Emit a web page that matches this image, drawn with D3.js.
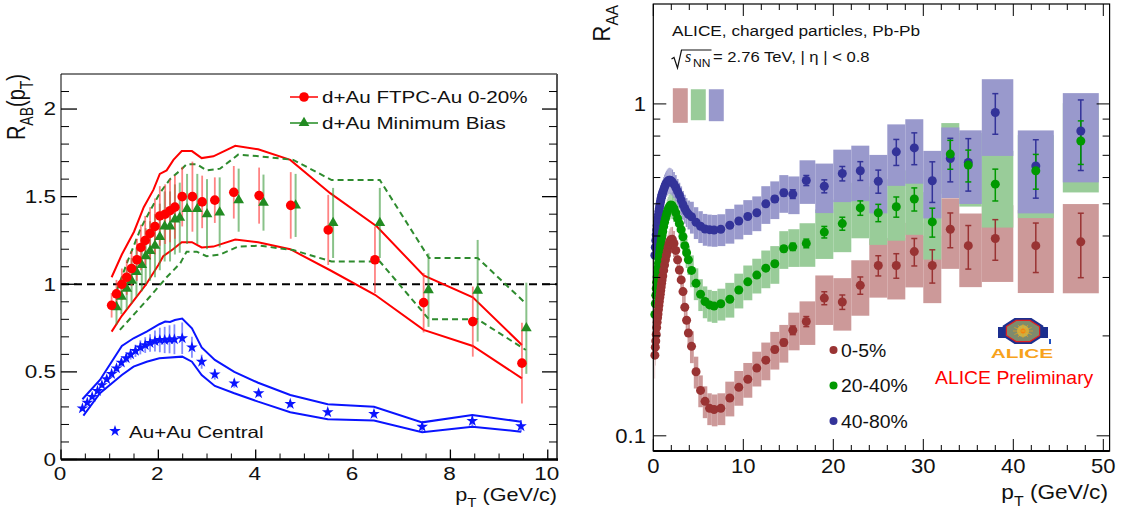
<!DOCTYPE html>
<html>
<head>
<meta charset="utf-8">
<script src="https://cdn.jsdelivr.net/npm/d3@7"></script>
<style>
  body { margin: 0; background: #fff; }
  svg { display: block; }
</style>
</head>
<body>
<svg id="chart" width="1125" height="517"></svg>
<script>
// ================= Left panel: STAR nuclear modification factors =================
// d+Au FTPC-Au 0-20% (red circles)
const dAuCentPt  = [1.04,1.14,1.25,1.35,1.45,1.56,1.64,1.73,1.83,1.93,2.03,2.14,2.24,2.34,2.49,2.70,2.90,3.16,3.55,4.07,4.72,5.49,6.45,7.45,8.46,9.47];
const dAuCentR   = [0.88,0.945,1.00,1.04,1.09,1.14,1.21,1.25,1.29,1.33,1.39,1.40,1.42,1.44,1.50,1.50,1.47,1.48,1.525,1.506,1.45,1.31,1.14,0.895,0.787,0.55];
const dAuCentErr = [0.07,0.08,0.09,0.10,0.10,0.12,0.13,0.14,0.15,0.16,0.17,0.17,0.18,0.18,0.17,0.20,0.15,0.13,0.15,0.16,0.19,0.20,0.19,0.17,0.20,0.23];
const dAuCentBandHi = [[1.04,1.04],[1.25,1.17],[1.5,1.30],[1.7,1.44],[1.9,1.54],[2.03,1.63],[2.17,1.65],[2.31,1.71],[2.48,1.76],[2.69,1.76],[2.89,1.72],[3.13,1.73],[3.58,1.79],[4.05,1.77],[4.71,1.71],[5.53,1.52],[6.49,1.33],[7.45,1.05],[8.46,0.926],[9.47,0.653]];
const dAuCentBandLo = [[1.04,0.73],[1.25,0.82],[1.5,0.91],[1.75,1.00],[2.0,1.11],[2.1,1.16],[2.3,1.20],[2.48,1.24],[2.69,1.24],[2.89,1.21],[3.13,1.215],[3.58,1.255],[4.05,1.24],[4.71,1.20],[5.53,1.08],[6.45,0.94],[7.45,0.74],[8.46,0.648],[9.47,0.463]];

// d+Au Minimum Bias (green triangles)
const dAuMbPt  = [1.14,1.24,1.35,1.45,1.55,1.66,1.74,1.83,1.93,2.03,2.13,2.24,2.34,2.44,2.59,2.80,3.00,3.26,3.65,4.16,4.82,5.59,6.55,7.55,8.56,9.56];
const dAuMbR   = [0.87,0.93,0.975,1.02,1.07,1.11,1.16,1.19,1.22,1.27,1.33,1.33,1.37,1.38,1.43,1.43,1.40,1.41,1.48,1.466,1.45,1.35,1.35,0.967,0.963,0.749];
const dAuMbErr = [0.10,0.10,0.12,0.13,0.14,0.15,0.16,0.17,0.18,0.19,0.20,0.20,0.20,0.20,0.20,0.20,0.20,0.20,0.18,0.16,0.18,0.20,0.20,0.21,0.29,0.26];
const dAuMbBandHi = [[1.14,0.96],[1.38,1.14],[1.64,1.32],[1.83,1.42],[2.03,1.52],[2.24,1.60],[2.45,1.65],[2.58,1.685],[2.79,1.685],[2.99,1.65],[3.27,1.66],[3.64,1.74],[4.09,1.73],[4.77,1.71],[5.56,1.595],[6.55,1.595],[7.56,1.15],[8.56,1.15],[9.55,0.89]];
const dAuMbBandLo = [[1.21,0.74],[1.49,0.825],[1.83,0.93],[2.17,1.04],[2.45,1.12],[2.58,1.186],[2.79,1.186],[2.99,1.16],[3.27,1.17],[3.64,1.215],[4.09,1.22],[4.77,1.195],[5.56,1.13],[6.55,1.13],[7.56,0.80],[8.56,0.80],[9.55,0.625]];

// Au+Au Central (blue stars)
const auAuPt  = [0.44,0.54,0.64,0.75,0.84,0.94,1.04,1.14,1.24,1.34,1.43,1.53,1.63,1.73,1.83,1.93,2.03,2.13,2.23,2.33,2.49,2.69,2.89,3.16,3.56,4.06,4.71,5.48,6.43,7.42,8.45,9.45];
const auAuR   = [0.292,0.324,0.358,0.391,0.425,0.458,0.488,0.52,0.553,0.578,0.60,0.62,0.64,0.653,0.665,0.676,0.682,0.682,0.686,0.686,0.692,0.64,0.558,0.486,0.435,0.378,0.317,0.27,0.26,0.187,0.22,0.19];
const auAuErr = [0.01,0.01,0.012,0.012,0.015,0.015,0.018,0.02,0.022,0.025,0.03,0.035,0.04,0.045,0.05,0.06,0.07,0.075,0.08,0.085,0.09,0.06,0.04,0.03,0.025,0.02,0.02,0.02,0.02,0.025,0.03,0.035];
const auAuBandHi = [[0.44,0.344],[0.80,0.454],[1.25,0.648],[1.49,0.692],[1.76,0.73],[2.02,0.772],[2.14,0.787],[2.24,0.785],[2.34,0.796],[2.49,0.804],[2.69,0.749],[2.89,0.64],[3.16,0.568],[3.56,0.50],[4.05,0.438],[4.71,0.368],[5.48,0.315],[6.43,0.301],[7.42,0.212],[8.45,0.254],[9.45,0.216]];
const auAuBandLo = [[0.46,0.25],[0.80,0.378],[1.25,0.482],[1.49,0.53],[1.76,0.558],[2.02,0.578],[2.49,0.587],[2.69,0.558],[2.89,0.482],[3.16,0.42],[3.56,0.378],[4.05,0.33],[4.71,0.27],[5.48,0.23],[6.43,0.222],[7.42,0.155],[8.45,0.187],[9.45,0.159]];

const leftXMajor = [0, 2, 4, 6, 8, 10];
const leftYMajor = [0, 0.5, 1, 1.5, 2];
const leftYLabels = ["0", "0.5", "1", "1.5", "2"];

// ================= Right panel: ALICE charged-particle R_AA, Pb-Pb =================
const alicePt = [0.175,0.225,0.275,0.325,0.375,0.425,0.475,0.525,0.575,0.625,0.675,0.725,0.775,0.825,0.875,0.925,0.975,
  1.05,1.15,1.25,1.35,1.45,1.55,1.65,1.75,1.85,1.95,
  2.1,2.3,2.5,2.7,2.9,3.1,3.3,3.5,3.7,3.9,
  4.25,4.75,5.25,5.75,6.25,6.75,7.5,8.5,9.5,10.5,11.5,12.5,13.5,14.5,15.5,
  17,19,21,23,25,27,29,31,33,35,38,42.5,47.5];
const raa0to5 = [0.175,0.185,0.193,0.202,0.212,0.220,0.227,0.233,0.240,0.247,0.254,0.261,0.267,0.274,0.281,0.288,0.295,
  0.303,0.315,0.327,0.339,0.350,0.360,0.370,0.379,0.386,0.390,
  0.391,0.380,0.362,0.339,0.316,0.295,0.272,0.244,0.223,0.204,
  0.186,0.156,0.137,0.127,0.121,0.120,0.121,0.130,0.140,0.148,0.160,0.169,0.182,0.191,0.208,
  0.221,0.260,0.253,0.284,0.326,0.326,0.359,0.326,0.419,0.374,0.393,0.374,0.384];
const raa20to40 = [0.232,0.250,0.265,0.278,0.290,0.301,0.311,0.321,0.331,0.341,0.351,0.360,0.369,0.378,0.387,0.395,0.403,
  0.413,0.427,0.440,0.452,0.463,0.473,0.481,0.488,0.493,0.496,
  0.494,0.484,0.470,0.452,0.436,0.418,0.398,0.374,0.356,0.339,
  0.315,0.288,0.267,0.254,0.248,0.246,0.250,0.258,0.275,0.291,0.305,0.320,0.330,0.366,0.371,
  0.380,0.411,0.436,0.486,0.470,0.490,0.517,0.441,0.706,0.654,0.573,0.629,0.773];
const raa40to80 = [0.350,0.370,0.388,0.403,0.417,0.430,0.442,0.453,0.464,0.475,0.485,0.495,0.504,0.512,0.520,0.527,0.534,
  0.542,0.552,0.562,0.570,0.577,0.582,0.586,0.589,0.589,0.587,
  0.582,0.572,0.560,0.545,0.531,0.513,0.497,0.484,0.473,0.465,
  0.457,0.440,0.428,0.420,0.418,0.417,0.419,0.431,0.444,0.458,0.470,0.500,0.517,0.540,0.535,
  0.588,0.565,0.617,0.629,0.585,0.717,0.737,0.587,0.685,0.666,0.942,0.650,0.829];
// relative statistical uncertainties
const stat0to5 = [0.01,0.01,0.01,0.01,0.01,0.01,0.01,0.01,0.01,0.01,0.01,0.01,0.01,0.01,0.01,0.01,0.01,
  0.01,0.01,0.01,0.01,0.01,0.01,0.01,0.01,0.01,0.01,
  0.01,0.01,0.01,0.01,0.01,0.01,0.01,0.01,0.01,0.01,
  0.01,0.01,0.01,0.01,0.01,0.01,0.01,0.01,0.012,0.012,0.015,0.018,0.02,0.022,0.03,
  0.035,0.045,0.05,0.06,0.07,0.085,0.095,0.115,0.12,0.15,0.14,0.17,0.22];
const stat20to40 = [0.01,0.01,0.01,0.01,0.01,0.01,0.01,0.01,0.01,0.01,0.01,0.01,0.01,0.01,0.01,0.01,0.01,
  0.01,0.01,0.01,0.01,0.01,0.01,0.01,0.01,0.01,0.01,
  0.01,0.01,0.01,0.01,0.01,0.01,0.01,0.01,0.01,0.01,
  0.01,0.01,0.01,0.01,0.01,0.01,0.01,0.01,0.01,0.012,0.012,0.015,0.018,0.02,0.025,
  0.03,0.04,0.045,0.05,0.06,0.07,0.08,0.10,0.10,0.11,0.11,0.12,0.15];
const stat40to80 = [0.01,0.01,0.01,0.01,0.01,0.01,0.01,0.01,0.01,0.01,0.01,0.01,0.01,0.01,0.01,0.01,0.01,
  0.01,0.01,0.01,0.01,0.01,0.01,0.01,0.01,0.01,0.01,
  0.01,0.01,0.01,0.01,0.01,0.01,0.01,0.01,0.01,0.01,
  0.01,0.01,0.01,0.01,0.01,0.01,0.01,0.01,0.012,0.012,0.015,0.018,0.02,0.022,0.03,
  0.035,0.045,0.05,0.065,0.08,0.09,0.11,0.14,0.15,0.18,0.14,0.20,0.24];
// relative systematic uncertainty per pT bin
const sysRel = [0.15,0.12,0.10,0.10,0.10,0.10,0.10,0.10,0.10,0.10,0.10,0.10,0.10,0.10,0.10,0.10,0.10,
  0.09,0.09,0.09,0.09,0.09,0.09,0.09,0.09,0.09,0.09,
  0.09,0.09,0.09,0.09,0.09,0.10,0.10,0.10,0.10,0.10,
  0.11,0.11,0.11,0.11,0.11,0.11,0.11,0.12,0.12,0.12,0.12,0.13,0.13,0.13,0.13,
  0.15,0.17,0.18,0.19,0.20,0.21,0.22,0.23,0.24,0.25,0.26,0.28,0.30];
// normalisation uncertainty boxes at R_AA = 1
const normPt = [3, 5, 7];
const normLo = [0.877, 0.893, 0.887];
const normHi = [1.115, 1.107, 1.107];

const centralityLabels = ["0-5%", "20-40%", "40-80%"];
const rightXMajor = [0, 10, 20, 30, 40, 50];
const rightYMajor = [0.1, 1];
const rightYLabels = ["0.1", "1"];

// ================= drawing =================
const FONT = "'Liberation Sans', Arial, Helvetica, sans-serif";
const svg = d3.select("#chart");

// text with optional subscripts, horizontal stretch and rotation
function richText(parent, x, y, parts, o) {
  const g = parent.append("g")
    .attr("transform", `translate(${x},${y}) scale(${o.sx || 1},1)` + (o.rot ? ` rotate(${o.rot})` : ""));
  const t = g.append("text")
    .attr("font-family", o.family || FONT)
    .attr("font-size", o.size)
    .attr("font-style", o.italic ? "italic" : null)
    .attr("text-anchor", o.anchor || "start")
    .attr("fill", o.fill || "#000");
  let shift = 0;
  parts.forEach(p => {
    const sub = Array.isArray(p);
    const target = sub ? o.size * 0.32 : 0;
    const ts = t.append("tspan").text(sub ? p[0] : p).attr("dy", target - shift);
    if (sub) ts.attr("font-size", o.size * 0.7);
    shift = target;
  });
  return g;
}

// ---------- left panel ----------
const L = { x0: 61, x1: 557, y0: 459.5, y1: 74 };
const xL = d3.scaleLinear().domain([0, 10.19]).range([L.x0, L.x1]);
const yL = d3.scaleLinear().domain([0, 2.2]).range([L.y0, L.y1]);
const left = svg.append("g");

// frame
left.append("line").attr("x1", L.x0).attr("x2", L.x1).attr("y1", L.y1).attr("y2", L.y1).attr("stroke", "#000").attr("stroke-width", 1);
left.append("line").attr("x1", L.x0).attr("x2", L.x0).attr("y1", L.y1).attr("y2", L.y0).attr("stroke", "#000").attr("stroke-width", 1);
left.append("line").attr("x1", L.x1).attr("x2", L.x1).attr("y1", L.y1).attr("y2", L.y0 + 1).attr("stroke", "#555").attr("stroke-width", 2);
left.append("line").attr("x1", L.x0).attr("x2", L.x1 + 1).attr("y1", L.y0).attr("y2", L.y0).attr("stroke", "#000").attr("stroke-width", 2.5);

// y ticks (both sides)
const leftYMinor = d3.range(0, 22).map(i => i / 10).filter(v => Math.abs(v * 2 - Math.round(v * 2)) > 1e-6);
leftYMajor.forEach(v => {
  left.append("line").attr("x1", L.x0).attr("x2", L.x0 + 16).attr("y1", yL(v)).attr("y2", yL(v)).attr("stroke", "#000").attr("stroke-width", 1.3);
  left.append("line").attr("x1", L.x1 - 15).attr("x2", L.x1).attr("y1", yL(v)).attr("y2", yL(v)).attr("stroke", "#000").attr("stroke-width", 1.3);
});
leftYMinor.forEach(v => {
  left.append("line").attr("x1", L.x0).attr("x2", L.x0 + 8).attr("y1", yL(v)).attr("y2", yL(v)).attr("stroke", "#000").attr("stroke-width", 1);
  left.append("line").attr("x1", L.x1 - 8).attr("x2", L.x1).attr("y1", yL(v)).attr("y2", yL(v)).attr("stroke", "#000").attr("stroke-width", 1);
});
// x ticks
const leftXMinor = d3.range(1, 21).map(i => i / 2).filter(v => v % 2 !== 0);
leftXMajor.forEach(v => left.append("line").attr("x1", xL(v)).attr("x2", xL(v)).attr("y1", L.y0).attr("y2", L.y0 - 10).attr("stroke", "#000").attr("stroke-width", 1.3));
leftXMinor.forEach(v => left.append("line").attr("x1", xL(v)).attr("x2", xL(v)).attr("y1", L.y0).attr("y2", L.y0 - 6).attr("stroke", "#000").attr("stroke-width", 1));

// tick labels
leftYMajor.forEach((v, i) => richText(left, 56, yL(v) + 6.4, [leftYLabels[i]], { size: 18, sx: 1.25, anchor: "end", fill: "#111" }));
leftXMajor.forEach(v => richText(left, xL(v) - 1, 480, [String(v)], { size: 18, sx: 1.25, anchor: "middle", fill: "#111" }));

// axis titles
richText(left, 25, 74, ["R", ["AB"], "(p", ["T"], ")"], { size: 20, sx: 1.25, rot: -90, anchor: "end", fill: "#111" });
richText(left, 557, 501, ["p", ["T"], " (GeV/c)"], { size: 18, sx: 1.2, anchor: "end", fill: "#111" });

// reference line at unity
left.append("line").attr("x1", L.x0).attr("x2", L.x1).attr("y1", yL(1)).attr("y2", yL(1))
  .attr("stroke", "#000").attr("stroke-width", 2).attr("stroke-dasharray", "8,5");

const lineL = d3.line().x(d => xL(d[0])).y(d => yL(d[1]));
const RED = "#ff0000", GREEN = "#228b22", BLUE = "#0a14ff";

// uncertainty band lines
[dAuCentBandHi, dAuCentBandLo].forEach(b => left.append("path").attr("d", lineL(b)).attr("fill", "none").attr("stroke", RED).attr("stroke-width", 2));
[dAuMbBandHi, dAuMbBandLo].forEach(b => left.append("path").attr("d", lineL(b)).attr("fill", "none").attr("stroke", "#2e8b2e").attr("stroke-width", 2).attr("stroke-dasharray", "6,4"));
[auAuBandHi, auAuBandLo].forEach(b => left.append("path").attr("d", lineL(b)).attr("fill", "none").attr("stroke", BLUE).attr("stroke-width", 2));

// error bars
function vbars(pt, val, err, color, width, op) {
  pt.forEach((p, i) => left.append("line")
    .attr("x1", xL(p)).attr("x2", xL(p)).attr("y1", yL(val[i] - err[i])).attr("y2", yL(val[i] + err[i]))
    .attr("stroke", color).attr("stroke-width", width).attr("stroke-opacity", op));
}
vbars(dAuMbPt, dAuMbR, dAuMbErr, "#3a9a3a", 2, 0.6);
vbars(dAuCentPt, dAuCentR, dAuCentErr, "#ff3030", 1.8, 0.6);
vbars(auAuPt, auAuR, auAuErr, "#3040ff", 1.8, 0.6);

// markers
const tri = d3.symbol().type(d3.symbolTriangle).size(50);
const star = d3.symbol().type(d3.symbolStar).size(42);
dAuMbPt.forEach((p, i) => left.append("path").attr("d", tri()).attr("transform", `translate(${xL(p)},${yL(dAuMbR[i])})`).attr("fill", GREEN));
dAuCentPt.forEach((p, i) => left.append("circle").attr("cx", xL(p)).attr("cy", yL(dAuCentR[i])).attr("r", 4.8).attr("fill", RED));
auAuPt.forEach((p, i) => left.append("path").attr("d", star()).attr("transform", `translate(${xL(p)},${yL(auAuR[i])})`).attr("fill", BLUE));

// legend
left.append("line").attr("x1", 290).attr("x2", 318).attr("y1", 97).attr("y2", 97).attr("stroke", RED).attr("stroke-width", 1.5);
left.append("circle").attr("cx", 304).attr("cy", 97).attr("r", 4.8).attr("fill", RED);
richText(left, 322, 103, ["d+Au FTPC-Au 0-20%"], { size: 16.5, sx: 1.25, fill: "#111" });
left.append("line").attr("x1", 290).attr("x2", 318).attr("y1", 123).attr("y2", 123).attr("stroke", GREEN).attr("stroke-width", 1.5);
left.append("path").attr("d", tri()).attr("transform", "translate(304,123)").attr("fill", GREEN);
richText(left, 322, 129, ["d+Au Minimum Bias"], { size: 16.5, sx: 1.25, fill: "#111" });
left.append("path").attr("d", star()).attr("transform", "translate(115,431)").attr("fill", BLUE);
richText(left, 129, 438, ["Au+Au Central"], { size: 16.5, sx: 1.25, fill: "#111" });

// ---------- right panel ----------
const R = { x0: 653.3, x1: 1109.6, y0: 451, y1: 4 };
const xR = d3.scaleLinear().domain([0, 50.7]).range([R.x0, R.x1]);
const yR = d3.scaleLog().domain([0.09, 2]).range([R.y0, R.y1]);
const right = svg.append("g");

const series = [
  { vals: raa0to5,   stat: stat0to5,   mk: "#993333", box: "#cc9999" },
  { vals: raa20to40, stat: stat20to40, mk: "#009900", box: "#99cc99" },
  { vals: raa40to80, stat: stat40to80, mk: "#333399", box: "#9999cc" }
];

// systematic boxes (bin-wide, capped at +-2 GeV/c)
function boxEdges(i) {
  const p = alicePt[i];
  const lm = i > 0 ? (p + alicePt[i - 1]) / 2 : null;
  const rm = i < alicePt.length - 1 ? (p + alicePt[i + 1]) / 2 : null;
  let lo = lm !== null ? lm : p - (rm - p);
  let hi = rm !== null ? rm : p + (p - lm);
  lo = Math.max(lo, p - 2);
  hi = Math.min(hi, p + 2);
  return [lo, hi];
}
series.forEach(s => {
  alicePt.forEach((p, i) => {
    const [lo, hi] = boxEdges(i);
    const v = s.vals[i], e = sysRel[i];
    right.append("rect")
      .attr("x", xR(lo)).attr("width", xR(hi) - xR(lo))
      .attr("y", yR(v * (1 + e))).attr("height", yR(v * (1 - e)) - yR(v * (1 + e)))
      .attr("fill", s.box);
  });
});

// normalisation boxes
normPt.forEach((p, i) => right.append("rect")
  .attr("x", xR(p - 0.83)).attr("width", xR(p + 0.83) - xR(p - 0.83))
  .attr("y", yR(normHi[i])).attr("height", yR(normLo[i]) - yR(normHi[i]))
  .attr("fill", series[i].box));

// stat error bars and markers (40-80% first, central last)
[2, 1, 0].forEach(k => {
  const s = series[k];
  alicePt.forEach((p, i) => {
    const v = s.vals[i], e = s.stat[i];
    const x = xR(p), ya = yR(v * (1 + e)), yb = yR(v * (1 - e));
    right.append("line").attr("x1", x).attr("x2", x).attr("y1", ya).attr("y2", yb).attr("stroke", s.mk).attr("stroke-width", 1.5);
    [ya, yb].forEach(yy => right.append("line").attr("x1", x - 3).attr("x2", x + 3).attr("y1", yy).attr("y2", yy).attr("stroke", s.mk).attr("stroke-width", 1.5));
  });
});
[2, 1, 0].forEach(k => {
  const s = series[k];
  alicePt.forEach((p, i) => right.append("circle").attr("cx", xR(p)).attr("cy", yR(s.vals[i])).attr("r", 4.5).attr("fill", s.mk));
});

// frame
right.append("rect").attr("x", R.x0).attr("y", R.y1).attr("width", R.x1 - R.x0).attr("height", R.y0 - R.y1)
  .attr("fill", "none").attr("stroke", "#000").attr("stroke-width", 1.2);
right.append("line").attr("x1", R.x0).attr("x2", R.x1).attr("y1", R.y0).attr("y2", R.y0).attr("stroke", "#000").attr("stroke-width", 1.8);

// x ticks top and bottom
d3.range(0, 51, 2).forEach(v => {
  const len = v % 10 === 0 ? 12 : 6;
  right.append("line").attr("x1", xR(v)).attr("x2", xR(v)).attr("y1", R.y0).attr("y2", R.y0 - len).attr("stroke", "#000").attr("stroke-width", 1);
  right.append("line").attr("x1", xR(v)).attr("x2", xR(v)).attr("y1", R.y1).attr("y2", R.y1 + len).attr("stroke", "#000").attr("stroke-width", 1);
});
// y ticks (log)
const rightYMinor = [0.2, 0.3, 0.4, 0.5, 0.6, 0.7, 0.8, 0.9];
rightYMajor.concat(rightYMinor).forEach(v => {
  const len = rightYMajor.includes(v) ? 13 : 7;
  right.append("line").attr("x1", R.x0).attr("x2", R.x0 + len).attr("y1", yR(v)).attr("y2", yR(v)).attr("stroke", "#000").attr("stroke-width", 1);
  right.append("line").attr("x1", R.x1 - len).attr("x2", R.x1).attr("y1", yR(v)).attr("y2", yR(v)).attr("stroke", "#000").attr("stroke-width", 1);
});

// tick labels
rightYMajor.forEach((v, i) => richText(right, 646, yR(v) + 7.5, [rightYLabels[i]], { size: 21, sx: 1.05, anchor: "end", fill: "#111" }));
rightXMajor.forEach(v => richText(right, xR(v), 472.5, [String(v)], { size: 21, sx: 1.05, anchor: "middle", fill: "#111" }));

// axis titles
richText(right, 610, 5, ["R", ["AA"]], { size: 22, sx: 1.07, rot: -90, anchor: "end", fill: "#111" });
richText(right, 1108, 499, ["p", ["T"], " (GeV/c)"], { size: 21, sx: 1.08, anchor: "end", fill: "#111" });

// header text
richText(right, 672, 35.5, ["ALICE, charged particles, Pb-Pb"], { size: 15, sx: 1.15, fill: "#111" });
right.append("path").attr("d", "M671.5,59 L674,57.5 L677.5,68 L681.5,50 L711.5,50")
  .attr("fill", "none").attr("stroke", "#111").attr("stroke-width", 1.2);
right.append("text").attr("x", 685).attr("y", 62).attr("font-family", "'Liberation Serif', 'Times New Roman', serif")
  .attr("font-style", "italic").attr("font-size", 16).attr("fill", "#111").text("s");
richText(right, 693, 66.5, ["NN"], { size: 10.5, sx: 1.15, fill: "#111" });
richText(right, 713, 61.7, ["= 2.76 TeV, | η | < 0.8"], { size: 15, sx: 1.11, fill: "#111" });

// legend
series.forEach((s, i) => {
  const cy = [350, 385.5, 421][i];
  right.append("circle").attr("cx", 833.5).attr("cy", cy).attr("r", 4).attr("fill", s.mk);
  richText(right, 841, cy + 6.8, [centralityLabels[i]], { size: 19, sx: 1.02, fill: "#111" });
});

// ALICE logo
const logo = right.append("g").attr("transform", "translate(1023,331)");
const oct = (rx, ry) => d3.range(8).map(k => {
  const a = Math.PI / 8 + k * Math.PI / 4;
  return [rx * Math.cos(a), ry * Math.sin(a)];
});
logo.append("rect").attr("x", -25).attr("y", -4).attr("width", 50).attr("height", 11).attr("fill", "#1c2f8f");
logo.append("polygon").attr("points", oct(22, 14).join(" ")).attr("fill", "#1c2f8f");
logo.append("polygon").attr("points", oct(18, 11.5).join(" ")).attr("fill", "#7f8b6c").attr("stroke", "#e02020").attr("stroke-width", 1.2);
logo.append("circle").attr("r", 6).attr("fill", "#c7b24a");
logo.append("circle").attr("r", 2.5).attr("fill", "#ff6a00");
d3.range(12).forEach(k => {
  const a = k * Math.PI / 6;
  logo.append("line").attr("x1", 0).attr("y1", 0).attr("x2", 10 * Math.cos(a)).attr("y2", 7 * Math.sin(a))
    .attr("stroke", "#e8a020").attr("stroke-width", 0.7);
});
logo.append("rect").attr("x", 26).attr("y", 8).attr("width", 2).attr("height", 5).attr("fill", "#2050c0");
richText(right, 1022, 357.5, ["ALICE"], { size: 13, sx: 1.6, anchor: "middle", fill: "#f7a21b" }).select("text").attr("font-weight", "bold");

// preliminary tag
richText(right, 935, 384, ["ALICE Preliminary"], { size: 19, sx: 1.02, fill: "#ff0000" });
</script>
</body>
</html>
